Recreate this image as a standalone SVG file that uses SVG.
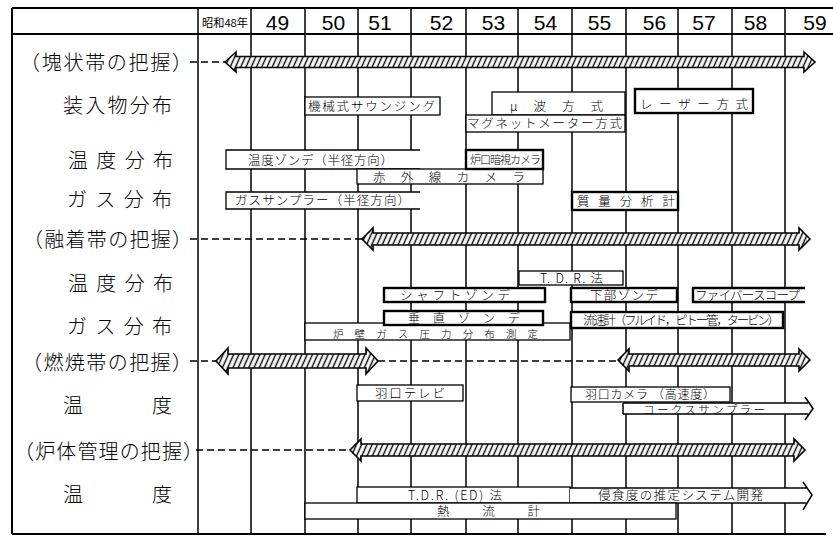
<svg xmlns="http://www.w3.org/2000/svg" width="833" height="536" viewBox="0 0 833 536">
<style>
.grid{stroke:#000;stroke-width:1.5;fill:none}
.frame{stroke:#000;stroke-width:2;fill:none}
.box{fill:#fff;stroke:#000;stroke-width:1.3}
.thick{fill:#fff;stroke:#000;stroke-width:2.4}
.edge{fill:none;stroke:#000;stroke-width:1.3}
.t{font-family:"Noto Sans CJK JP","Noto Sans",sans-serif;font-size:12.5px;fill:#000;font-weight:300}
.lab{font-family:"Noto Sans CJK JP","Noto Sans",sans-serif;font-size:20px;fill:#000;font-weight:300}
.yr{font-family:"Liberation Sans",Arial,sans-serif;font-size:21px;fill:#000;text-anchor:middle}
.dash{stroke:#000;stroke-width:1.5;stroke-dasharray:7 4;fill:none}
.harrow{fill:url(#hatch);stroke:#000;stroke-width:1.6;stroke-linejoin:miter}
.warrow{fill:#fff;stroke:#000;stroke-width:1.5}
</style>
<defs>
<pattern id="hatch" patternUnits="userSpaceOnUse" width="4.8" height="12" patternTransform="rotate(24)">
<rect width="4.8" height="12" fill="#fff"/>
<line x1="2.4" y1="-1" x2="2.4" y2="13" stroke="#000" stroke-width="1.4"/>
</pattern>
</defs>
<rect width="833" height="536" fill="#fff"/>
<g id="grid">
<path class="frame" d="M12,8 H833 M12,8 V534 M12,534 H826 M12,34 H833"/>
<path class="grid" d="M198,8 V534 M251,8 V534 M305,8 V534 M358,8 V534 M411,8 V534 M466,8 V534 M518,8 V534 M572,8 V534 M626,8 V534 M678,8 V534 M732,8 V534 M785,8 V534"/>
</g>
<g id="header">
<text x="202" y="26.5" font-family="Noto Sans CJK JP,sans-serif" font-size="11" textLength="46" lengthAdjust="spacingAndGlyphs">昭和48年</text>
<text class="yr" x="277.5" y="30">49</text>
<text class="yr" x="333.5" y="30">50</text>
<text class="yr" x="380" y="30">51</text>
<text class="yr" x="441.5" y="30">52</text>
<text class="yr" x="493.5" y="30">53</text>
<text class="yr" x="545.5" y="30">54</text>
<text class="yr" x="599.5" y="30">55</text>
<text class="yr" x="654.5" y="30">56</text>
<text class="yr" x="704" y="30">57</text>
<text class="yr" x="755.5" y="30">58</text>
<text class="yr" x="815" y="30">59</text>
</g>
<g id="labels">
<text class="lab" x="20" y="69.5" textLength="172">（塊状帯の把握）</text>
<text class="lab" x="63" y="112.5" textLength="109">装入物分布</text>
<text class="lab" x="68" y="167.5" textLength="105">温度分布</text>
<text class="lab" x="67" y="206.5" textLength="105">ガス分布</text>
<text class="lab" x="23" y="247" textLength="169">（融着帯の把握）</text>
<text class="lab" x="68" y="290.5" textLength="105">温度分布</text>
<text class="lab" x="67" y="334" textLength="105">ガス分布</text>
<text class="lab" x="22" y="369.5" textLength="170">（燃焼帯の把握）</text>
<text class="lab" x="63 152" y="412.5">温度</text>
<text class="lab" x="14" y="458.5" textLength="189">（炉体管理の把握）</text>
<text class="lab" x="63 152" y="501.5">温度</text>
</g>
<g id="connectors">
<path class="dash" d="M190,62 H225 M190,239 H362 M190,361 H216 M378,361 H618 M196,450 H350"/>
<polygon class="harrow" points="225,62 236,52 236,56.5 804,56.5 804,52 815,62 804,72 804,67.5 236,67.5 236,72"/>
<polygon class="harrow" points="362,239 373,228 373,233 799,233 799,228 810,239 799,250 799,245 373,245 373,250"/>
<polygon class="harrow" points="216,361 228,348 228,354 366,354 366,348 378,361 366,374 366,368 228,368 228,374"/>
<polygon class="harrow" points="618,360 629,349 629,354 799,354 799,349 810,360 799,371 799,366 629,366 629,371"/>
<polygon class="harrow" points="350,450 361,439 361,444 794,444 794,439 805,450 794,461 794,456 361,456 361,461"/>
</g>
<g id="n-kikai"><rect class="box" x="305" y="97" width="135" height="18"/><text class="t" x="308" y="110.5" textLength="127">機械式サウンジング</text></g>
<g id="n-mu"><rect class="box" x="492" y="92" width="133" height="23"/><text class="t" x="510" y="110.5" textLength="93">μ 波 方 式</text></g>
<g id="n-magnet"><rect class="box" x="466" y="115" width="159" height="17"/><text class="t" x="467" y="128" textLength="155">マグネットメーター方式</text></g>
<g id="n-laser"><rect class="thick" x="635" y="89" width="118" height="24"/><text class="t" x="640" y="108.7" textLength="108">レ ー ザ ー 方 式</text></g>
<g id="n-ondo-sonde"><path class="box" d="M420,150 H226 V169 H420" /><text class="t" x="248" y="164.7" textLength="145">温度ゾンデ（半径方向）</text></g>
<g id="n-sekigai"><rect class="box" x="357" y="169" width="186" height="15"/><text class="t" x="373" y="181.5" textLength="152">赤 外 線 カ メ ラ</text></g>
<g id="n-roguchi"><rect class="thick" x="466" y="150" width="77" height="19"/><text class="t" x="470" y="164.3" textLength="71" style="font-size:11px">炉口暗視カメラ</text></g>
<g id="n-gas-sampler"><path class="box" d="M420,192 H226 V209 H420"/><text class="t" x="235" y="204.7" textLength="175">ガスサンプラー（半径方向）</text></g>
<g id="n-shitsuryo"><rect class="thick" x="572" y="192" width="106" height="18"/><text class="t" x="577" y="205.7" textLength="98">質 量 分 析 計</text></g>
<g id="n-tdr"><rect class="box" x="519" y="271" width="104" height="14"/><text class="t" x="540" y="282.5" textLength="63">T. D. R. 法</text></g>
<g id="n-shaft"><rect class="thick" x="384" y="288" width="161" height="14"/><text class="t" x="400" y="299.5" textLength="110">シ ャ フ ト ゾ ン デ</text></g>
<g id="n-kabu"><rect class="thick" x="571" y="288" width="106" height="14"/><text class="t" x="590" y="299.5" textLength="68">下部ゾンデ</text></g>
<g id="n-fiber"><path class="thick" d="M805,288 H693 V302 H805"/><text class="t" x="695" y="299.5" textLength="105">ファイバースコープ</text></g>
<g id="n-rohekigas"><rect class="box" x="305" y="323" width="265" height="17"/><text class="t" x="333" y="337.5" textLength="205" style="font-size:10.5px">炉 壁 ガ ス 圧 力 分 布 測 定</text></g>
<g id="n-suichoku"><rect class="thick" x="384" y="311" width="159" height="14"/><text class="t" x="408" y="322.5" textLength="112" style="font-size:12px">垂 直 ゾ ン デ</text></g>
<g id="n-ryusoku"><rect class="thick" x="571" y="312" width="212" height="16"/><text class="t" x="583" y="324.5" textLength="197">流速計（フルイド，ピトー管，タービン）</text></g>
<g id="n-haguchi-tv"><rect class="box" x="357" y="385" width="106" height="16"/><text class="t" x="375" y="397.5" textLength="70">羽口テレビ</text></g>
<g id="n-haguchi-cam"><rect class="box" x="571" y="387" width="159" height="15"/><text class="t" x="585" y="398.5" textLength="130" style="font-size:12px">羽口カメラ （高速度）</text></g>
<g id="n-coke"><rect x="623" y="403" width="185" height="11" fill="#fff"/><path class="warrow" d="M623,403 H808 M623,414 H808 M623,403 V414"/><path class="edge" style="stroke-width:1.6" d="M805,397 L813,408.5 L805,420"/><text class="t" x="643" y="413.5" textLength="122" style="font-size:11.5px">コークスサンプラー</text></g>
<g id="n-tdr-ed"><rect class="box" x="357" y="487" width="213" height="16"/><text class="t" x="408" y="499.5" textLength="94">T.D.R. (ED) 法</text></g>
<g id="n-shinshoku"><path d="M570,488 H806 L812,495 L806,503 H570 Z" fill="#fff"/><path class="edge" style="stroke-width:1.5" d="M570,488 H807 M570,503 H807 M803,482 L812,495 L803,510"/><text class="t" x="598" y="499.5" textLength="165">侵食度の推定システム開発</text></g>
<g id="n-netsuryu"><rect class="box" x="305" y="503" width="371" height="16"/><text class="t" x="437" y="516" textLength="103">熱　　流　　計</text></g>
</svg>
